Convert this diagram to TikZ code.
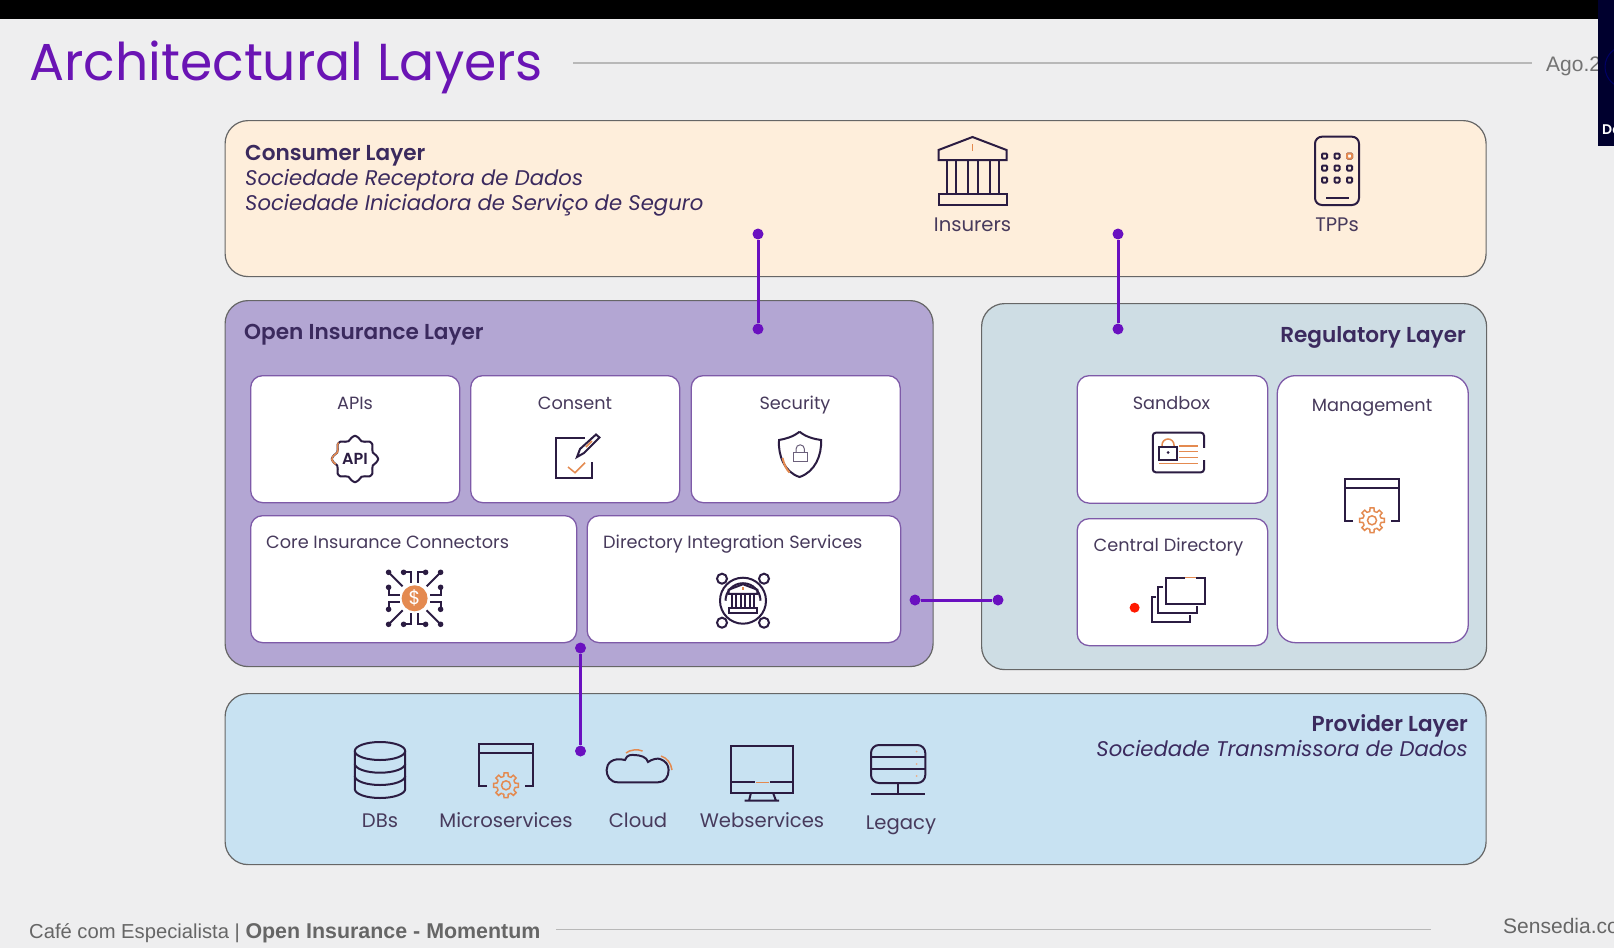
\documentclass[tikz,border=0pt]{standalone}
\usepackage{fontspec}
\setmainfont[BoldFont={Poppins SemiBold}]{Poppins}
\newfontfamily\footfont{Liberation Sans}
\usetikzlibrary{positioning,calc}
\definecolor{pagebg}{HTML}{EEEEEF}
\definecolor{titlecol}{HTML}{6A14B4}
\definecolor{txtcol}{HTML}{473A5C}
\definecolor{headcol}{HTML}{3B2A5E}
\definecolor{iconcol}{HTML}{2B1C42}
\definecolor{orangecol}{HTML}{E48A50}
\definecolor{linkcol}{HTML}{6A10C0}
\definecolor{cardline}{HTML}{7E5AA8}
\tikzstyle{layer} = [draw=black!60, line width=1.2pt, rounded corners=23pt, anchor=north west, inner sep=0pt]
\tikzstyle{card} = [draw=cardline, fill=white, line width=1.3pt, rounded corners=12pt, anchor=north west, inner sep=0pt]
\tikzstyle{lbl} = [inner sep=0pt, text=txtcol, font=\fontsize{17.7}{20}\selectfont, anchor=base]
\tikzstyle{biglbl} = [inner sep=0pt, text=txtcol, font=\fontsize{19.6}{22}\selectfont, anchor=base]
\tikzstyle{head} = [inner sep=0pt, text=headcol, font=\fontsize{21.6}{24}\selectfont\bfseries, anchor=base west]
\tikzstyle{sub} = [inner sep=0pt, text=headcol, font=\fontsize{21.2}{24}\selectfont\itshape, anchor=base west]
\tikzstyle{foot} = [inner sep=0pt, text=black!60, font=\footfont\fontsize{21}{24}\selectfont, anchor=base west]
\tikzstyle{pdot} = [circle, fill=linkcol, minimum size=11pt, inner sep=0pt]
\tikzstyle{link} = [draw=linkcol, line width=3pt]
\tikzstyle{ico} = [draw=iconcol, line width=2pt]
\tikzstyle{ora} = [draw=orangecol, line width=1.5pt]
\tikzstyle{rule} = [draw=black!28, line width=1.2pt]
% bank building, centred on #1, scaled by #2
\newcommand{\bankicon}[2]{
  \begin{scope}[shift={#1}, scale=#2]
    \draw[ico] (-34,-11) -- (34,-11) -- (34,-21) -- (0,-34) -- (-34,-21) -- cycle;
    \draw[ico] (-34,23) rectangle (34,34);
    \foreach \colx in {-26,-17,-5,5,17,26} \draw[ico] (\colx,-11) -- (\colx,23);
    \draw[ora] (0,-27) -- (0,-20);
  \end{scope}}
% small gear
\newcommand{\gearicon}[1]{
  \begin{scope}[shift={#1}]
    \foreach \ang in {0,45,...,315}
      \draw[ora] ({\ang-22.5}:9) -- ({\ang-13}:9.5) -- ({\ang-9}:12.5) -- ({\ang+9}:12.5) -- ({\ang+13}:9.5) -- ({\ang+22.5}:9);
    \draw[ora] (0,0) circle[radius=4.5];
  \end{scope}}
% window with a gear under it, #1 is the top middle
\newcommand{\windowicon}[1]{
  \begin{scope}[shift={#1}]
    \draw[ico] (-19,42) -- (-27,42) -- (-27,0) -- (27,0) -- (27,42) -- (19,42);
    \draw[ico] (-27,9) -- (27,9);
  \end{scope}
  \gearicon{($#1+(0,41)$)}}
\begin{document}
\begin{tikzpicture}[x=1pt, y=-1pt]
\useasboundingbox (0,0) rectangle (1614,948);
\fill[pagebg] (0,0) rectangle (1614,948);
\fill[black] (0,0) rectangle (1614,18.5);

\node[inner sep=0pt, text=titlecol, font=\fontsize{52}{56}\selectfont, anchor=base west] (title) at (29,80) {Architectural Layers};
\coordinate (ruleA) at (573,63);
\coordinate (ruleB) at (1532,63);
\draw[rule] (ruleA) -- (ruleB);
\node[foot, text=black!55] (ago) at (1546,71) {Ago.2};

% layers
\node[layer, fill={rgb,255:red,254;green,238;blue,219}, minimum width=1261pt, minimum height=156pt] (consumer) at (224.5,120) {};
\node[layer, fill={rgb,255:red,179;green,166;blue,211}, minimum width=708pt, minimum height=366pt] (openlayer) at (224.5,300) {};
\node[layer, fill={rgb,255:red,206;green,221;blue,228}, minimum width=505pt, minimum height=366pt] (regulatory) at (981,303) {};
\node[layer, fill={rgb,255:red,200;green,226;blue,242}, minimum width=1261pt, minimum height=171pt] (provider) at (224.5,693) {};

\node[head] (consumerH) at (245,160) {Consumer Layer};
\node[sub] (consumerA) at (245,185) {Sociedade Receptora de Dados};
\node[sub] (consumerB) at (245,210) {Sociedade Iniciadora de Serviço de Seguro};
\node[head] (openH) at (244,339) {Open Insurance Layer};
\node[head, anchor=base east] (regH) at (1466,342) {Regulatory Layer};
\node[head, anchor=base east] (provH) at (1468,731) {Provider Layer};
\node[sub, anchor=base east] (provA) at (1468,756) {Sociedade Transmissora de Dados};

% cards
\node[card, minimum width=209pt, minimum height=127pt] (apis) at (250,375) {};
\node[card, minimum width=209pt, minimum height=127pt] (consent) at (470,375) {};
\node[card, minimum width=209pt, minimum height=127pt] (security) at (690.5,375) {};
\node[card, minimum width=326pt, minimum height=127pt] (core) at (250,515) {};
\node[card, minimum width=313.5pt, minimum height=127pt] (dirint) at (586.5,515) {};
\node[card, minimum width=190.5pt, minimum height=127.5pt] (sandbox) at (1076.5,375) {};
\node[card, minimum width=190.5pt, minimum height=127pt] (central) at (1076.5,518) {};
\node[card, rounded corners=18pt, minimum width=191pt, minimum height=267pt] (mgmt) at (1276.6,375) {};

\node[lbl] (apisL) at (355,409) {APIs};
\node[lbl] (consentL) at (575,409) {Consent};
\node[lbl] (securityL) at (795,409) {Security};
\node[lbl, anchor=base west] (coreL) at (266,548) {Core Insurance Connectors};
\node[lbl, anchor=base west] (dirL) at (603,548) {Directory Integration Services};
\node[lbl] (sandboxL) at (1171.5,409) {Sandbox};
\node[lbl] (mgmtL) at (1372,411) {Management};
\node[lbl] (centralL) at (1168.5,551.5) {Central Directory};
\node[biglbl] (insurersL) at (972.5,231) {Insurers};
\node[biglbl] (tppsL) at (1337,231) {TPPs};
\node[biglbl] (dbsL) at (380,827.5) {DBs};
\node[biglbl] (microL) at (506,827.5) {Microservices};
\node[biglbl] (cloudL) at (638,827.5) {Cloud};
\node[biglbl] (webL) at (762,827.5) {Webservices};
\node[biglbl] (legacyL) at (901,829) {Legacy};

% connectors
\node[pdot] (c1a) at (758,234) {};
\node[pdot] (c1b) at (758,329) {};
\node[pdot] (c2a) at (1118,234) {};
\node[pdot] (c2b) at (1118,329) {};
\node[pdot] (c3a) at (915,600) {};
\node[pdot] (c3b) at (998,600) {};
\node[pdot] (c4a) at (580.5,648) {};
\node[pdot] (c4b) at (580.5,751) {};
\draw[link] (c1a) -- (c1b);
\draw[link] (c2a) -- (c2b);
\draw[link] (c3a) -- (c3b);
\draw[link] (c4a) -- (c4b);

% consumer icons
\bankicon{(972.5,171)}{1}
\draw[ico, rounded corners=7pt] (1315,136.7) rectangle (1359,205);
\foreach \dy in {156,168,180}
  \foreach \dx in {1324.5,1337,1349.5}
    \draw[ico, rounded corners=1pt] (\dx-2.5,\dy-2.5) rectangle (\dx+2.5,\dy+2.5);
\draw[draw=orangecol, fill=white, line width=2pt, rounded corners=1pt] (1347,153.5) rectangle (1352,158.5);
\draw[ico] (1326,198) -- (1348.5,198);

% api badge
\begin{scope}[shift={(355,459)}]
  \draw[ico] plot[domain=0:350, samples=36, smooth cycle] (\x:{21+2.2*cos(8*\x)});
  \draw[ora] plot[domain=165:225, samples=10, smooth] (\x:{21+2.2*cos(8*\x)});
  \node[inner sep=0pt, text=iconcol, font=\fontsize{16}{16}\selectfont\bfseries] (apiT) at (0,0) {API};
\end{scope}

% consent form and pen
\draw[ico] (592,462) -- (592,478) -- (555.7,478) -- (555.7,438) -- (585,438);
\draw[ico] (577,457) -- (580,449) -- (596,434.5) -- (599.5,437.5) -- (584,453) -- cycle;
\draw[ora] (592,441) -- (586,447);
\draw[ora] (568,467) -- (575,472.7) -- (585,462.7);

% shield with lock
\draw[ico] (799.5,431.7) .. controls (806,437) and (814,439) .. (821,440) .. controls (822,455) and (815,472) .. (799.5,477) .. controls (784,472) and (778,455) .. (779,440) .. controls (785,439) and (793,437) .. (799.5,431.7);
\draw[draw=orangecol, line width=2pt] (782.5,458) .. controls (784,464) and (786,469) .. (789.5,472.5);
\draw[draw=iconcol!70, line width=1pt] (793,452.5) rectangle (807.5,461.5);
\draw[draw=iconcol!70, line width=1pt] (796,452.5) -- (796,449) arc[start angle=180, end angle=360, radius=4.2] -- (804.4,452.5);

% core connectors
\begin{scope}[shift={(414.6,598.3)}]
  \foreach \rot in {0,90,180,270}{
    \begin{scope}[rotate=\rot]
      \draw[ico] (-26,-26) -- (-12,-12);
      \draw[ico] (-11,-26) -- (-3.5,-26) -- (-3.5,-15);
      \draw[ico] (11,-26) -- (3.5,-26) -- (3.5,-15);
      \fill[iconcol] (-26,-26) circle[radius=2.8] (-11,-26) circle[radius=2.8] (11,-26) circle[radius=2.8];
    \end{scope}}
  \fill[orangecol] (0,0) circle[radius=13];
  \node[inner sep=0pt, text=white, font=\fontsize{19}{19}\selectfont] (coreT) at (0,0) {\$};
\end{scope}

% directory integration
\begin{scope}[shift={(743,600.7)}]
  \draw[ico] (0,0) circle[radius=23];
  \draw[ico] (-17.5,0) arc[start angle=180, end angle=360, radius=17.5];
  \foreach \sx/\sy in {-21/-22,21/-22,-21/22,21/22}
    \draw[ico, fill=white] (\sx,\sy) circle[radius=5];
\end{scope}
\bankicon{(743,598.5)}{0.42}

% sandbox card
\draw[ico, rounded corners=3pt] (1152.8,432.7) rectangle (1204,472.3);
\fill[white] (1202,448) rectangle (1206,460);
\draw[ora] (1162,447.3) -- (1162,445) arc[start angle=180, end angle=360, radius=6] -- (1174,447.3);
\draw[ora] (1179,446) -- (1197.5,446) (1179,451.7) -- (1197.5,451.7) (1179,457.3) -- (1197.5,457.3) (1158.8,463.3) -- (1197.5,463.3);
\draw[ico] (1159,447.3) rectangle (1177.4,460);
\fill[iconcol] (1168.2,452.5) circle[radius=1.5];

% central directory
\fill[red!80!orange] (1134.6,607.7) circle[radius=5];
\draw[ico] (1185,577.7) -- (1165.5,577.7) -- (1165.5,604.3) -- (1205,604.3) -- (1205,577.7) -- (1196,577.7);
\draw[ora] (1185,577.7) -- (1196,577.7);
\draw[ico] (1163,586.7) -- (1158,586.7) -- (1158,613.3) -- (1197,613.3) -- (1197,606);
\draw[ico] (1156,596.7) -- (1151.6,596.7) -- (1151.6,622.3) -- (1190.4,622.3) -- (1190.4,615);

\windowicon{(1372,479.3)}

% provider icons
\draw[ico] (380,751) circle[x radius=25.2, y radius=9];
\draw[ico] (354.8,751) -- (354.8,789) arc[start angle=180, end angle=0, x radius=25.2, y radius=9] -- (405.2,751);
\draw[ico] (354.8,763.7) arc[start angle=180, end angle=0, x radius=25.2, y radius=9];
\draw[ico] (354.8,776) arc[start angle=180, end angle=0, x radius=25.2, y radius=9];

\windowicon{(506,744.3)}

\draw[ico] (618,782.3) .. controls (610,782.3) and (606.6,776) .. (606.6,770) .. controls (606.6,763) and (613,757) .. (625,760) .. controls (627,754) and (632,755) .. (634,755) .. controls (640,755) and (647,757) .. (648,762) .. controls (652,759) and (658,758) .. (660,759) .. controls (666,761) and (668.6,765) .. (668.6,770) .. controls (668.6,777) and (665,782.3) .. (658,782.3) -- cycle;
\draw[ora] (626,753) .. controls (630,749.5) and (638,749) .. (642.6,751);
\draw[ora] (661,756) .. controls (667,758) and (671,763) .. (672,770);

\draw[ico] (731,746) rectangle (793,792.7);
\draw[ico] (731,782.3) -- (755,782.3) (770,782.3) -- (793,782.3);
\draw[ora] (756,782.3) -- (769,782.3);
\draw[ico] (751,792.7) -- (749,800.7) (773,792.7) -- (776,800.7) (744.5,800.7) -- (779,800.7);

\draw[ico, rounded corners=8pt] (871,745) rectangle (925.3,783);
\draw[ico] (871,756.7) -- (925.3,756.7) (871,769.3) -- (925.3,769.3);
\fill[orangecol!70] (916.7,751.5) circle[radius=1] (916.7,764) circle[radius=1] (916.7,776) circle[radius=1];
\draw[ico] (898.4,783) -- (898.4,794) (871,794) -- (925.3,794);

% footer
\node[foot, font=\footfont\fontsize{20.2}{24}\selectfont] (footL) at (29,938) {Café com Especialista | {\fontsize{21.4}{24}\selectfont\textbf{Open Insurance - Momentum}}};
\coordinate (footA) at (556,929.5);
\coordinate (footB) at (1431,929.5);
\draw[rule] (footA) -- (footB);
\node[foot] (sensedia) at (1503,933) {Sensedia.co};

% webcam strip
\fill[black!70!blue!60!black] (1598,0) rectangle (1614,146);
\draw[blue!40!black, line width=1pt] (1626,67) circle[radius=21];
\node[inner sep=0pt, text=white, font=\fontsize{14}{16}\selectfont\bfseries, anchor=base west] (camL) at (1602,134) {Da};
\end{tikzpicture}
\end{document}
